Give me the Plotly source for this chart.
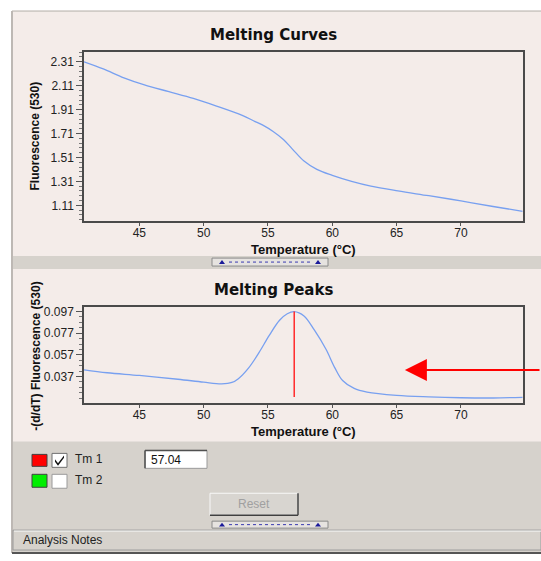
import plotly.graph_objects as go

# ---------------- data ----------------
curve_temp = [40.7, 42.2, 43.8, 45.4, 47.3, 49.2, 51.0, 53.0, 54.0, 54.6, 55.4, 56.2,
              56.9, 57.8, 58.8, 60.0, 61.5, 63.0, 65.1, 67.5, 70.0, 72.5, 74.8]
curve_fluor = [2.31, 2.25, 2.175, 2.116, 2.06, 2.004, 1.94, 1.862, 1.81, 1.78, 1.727, 1.66,
               1.58, 1.48, 1.41, 1.36, 1.31, 1.27, 1.23, 1.19, 1.147, 1.10, 1.06]

peak_temp = [40.7, 42.5, 45.0, 48.0, 50.0, 51.4, 52.2, 52.7, 53.5, 54.3, 55.1, 55.9,
             56.5, 57.04, 57.8, 58.6, 59.5, 60.2, 60.8, 61.7, 62.7, 65.0, 67.5, 70.0, 72.5, 74.8]
peak_deriv = [0.0432, 0.0405, 0.038, 0.0345, 0.0318, 0.0303, 0.0315, 0.035, 0.045, 0.059,
              0.075, 0.089, 0.095, 0.097, 0.093, 0.080, 0.0624, 0.045, 0.0333, 0.026,
              0.0226, 0.0196, 0.0182, 0.0174, 0.0172, 0.0178]

tm1 = 57.04
tm_line_y = [0.097, 0.018]

x_ticks = [45, 50, 55, 60, 65, 70]
y1_ticks = [1.11, 1.31, 1.51, 1.71, 1.91, 2.11, 2.31]
y2_ticks = [0.037, 0.057, 0.077, 0.097]

arrow_target = (65.64, 0.0431)

# ---------------- layout helpers ----------------
W, H = 541, 561
def px(x):
    return x / W
def py(y):
    return 1 - y / H

PINK = "#f4ece9"
GRAY = "#d6d2cc"
BLUE = "#78a0f0"
FONT = "Liberation Sans, Arial, sans-serif"

fig = go.Figure()
fig.add_trace(go.Scatter(x=curve_temp, y=curve_fluor, mode="lines",
                         line=dict(color=BLUE, width=1.3, shape="spline"),
                         xaxis="x", yaxis="y", showlegend=False, hoverinfo="skip"))
fig.add_trace(go.Scatter(x=peak_temp, y=peak_deriv, mode="lines",
                         line=dict(color=BLUE, width=1.3, shape="spline"),
                         xaxis="x2", yaxis="y2", showlegend=False, hoverinfo="skip"))
fig.add_trace(go.Scatter(x=[tm1, tm1], y=tm_line_y, mode="lines",
                         line=dict(color="#ff2a2a", width=1.5),
                         xaxis="x2", yaxis="y2", showlegend=False, hoverinfo="skip"))

xd = [px(84), px(522.7)]
axis_common = dict(showline=True, mirror=True, linecolor="#4a4a4a", linewidth=1.5,
                   showgrid=False, zeroline=False, ticks="outside",
                   tickcolor="#555", tickfont=dict(family=FONT, size=12, color="#222"))

fig.update_layout(
    width=W, height=H,
    margin=dict(l=0, r=0, t=0, b=0),
    paper_bgcolor="white", plot_bgcolor="white",
    xaxis=dict(domain=xd, range=[40.7, 74.8], tickvals=x_ticks, ticklen=3,
               ticklabelstandoff=-3, anchor="y", **axis_common),
    yaxis=dict(domain=[py(220), py(50)], range=[0.977, 2.393], tickvals=y1_ticks,
               tickformat=".2f", ticklen=6, anchor="x",
               minor=dict(ticks="outside", ticklen=3, tick0=1.11, dtick=0.04, tickcolor="#777"),
               **axis_common),
    xaxis2=dict(domain=xd, range=[40.7, 74.8], tickvals=x_ticks, ticklen=3,
                ticklabelstandoff=-3, anchor="y2", **axis_common),
    yaxis2=dict(domain=[py(402.5), py(306)], range=[0.0125, 0.1013], tickvals=y2_ticks,
                tickformat=".3f", ticklen=6, anchor="x2",
                minor=dict(ticks="outside", ticklen=3, tick0=0.037, dtick=0.005, tickcolor="#777"),
                **axis_common),
)

shapes = []
def rect(x0, y0, x1, y1, fill, line=None, lw=1):
    shapes.append(dict(type="rect", xref="paper", yref="paper", layer="below",
                       x0=px(x0), x1=px(x1), y0=py(y1), y1=py(y0),
                       fillcolor=fill, line=dict(color=line or fill, width=lw if line else 0)))
def line(x0, y0, x1, y1, color, lw=1, dash=None, layer="above"):
    d = dict(type="line", xref="paper", yref="paper", layer=layer,
             x0=px(x0), x1=px(x1), y0=py(y0), y1=py(y1), line=dict(color=color, width=lw))
    if dash:
        d["line"]["dash"] = dash
    shapes.append(d)
def path(pts, fill, color=None, lw=0, closed=True):
    s = "M " + " L ".join(f"{px(a):.5f},{py(b):.5f}" for a, b in pts)
    if closed:
        s += " Z"
    shapes.append(dict(type="path", xref="paper", yref="paper", path=s,
                       fillcolor=fill, line=dict(color=color or fill, width=lw)))

# panels
rect(12, 9, 541, 553, GRAY)
rect(13, 10, 541, 255, PINK)
rect(13, 268, 541, 441, PINK)
line(12, 9, 541, 9, "#cfcac6", 1.5, layer="below")
line(12, 9, 12, 553, "#bdb8b4", 2, layer="below")
line(12, 553, 541, 553, "#555555", 2, layer="below")

# splitter widgets
def splitter(x0, y0, x1, y1):
    rect(x0, y0, x1, y1, "#e6e3e0", "#8a8a8a", 1)
    line(x0 + 17, (y0 + y1) / 2, x1 - 17, (y0 + y1) / 2, "#3a3ab0", 1, dash="dot")
    for cx in (x0 + 10, x1 - 10):
        cy = (y0 + y1) / 2
        path([(cx - 3, cy + 2), (cx + 3, cy + 2), (cx, cy - 2)], "#1a1a9a")
splitter(212, 257, 328, 265)
splitter(212, 521, 328, 528)

# Tm controls
rect(32, 454, 47, 466, "#ff0000", "#404040", 1)
rect(52, 453, 67, 467, "white", "#707070", 1)
path([(55, 459), (58, 463), (64, 455), (64, 457.5), (58, 465.5), (55, 461.5)], "#111", closed=True)
rect(32, 474, 47, 487, "#00ee00", "#404040", 1)
rect(52, 474, 67, 488, "white", "#9a9a9a", 1)
rect(145, 450, 207, 468, "white", "#9a9a9a", 1)
line(145, 450, 207, 450, "#505050", 1.5)
line(145, 450, 145, 468, "#505050", 1.5)
# reset button
rect(210, 493, 298, 515, "#d8d5d0", "#f8f8f8", 1)
line(210, 515, 298, 515, "#404040", 1.5)
line(298, 493, 298, 515, "#404040", 1.5)
# analysis notes box
rect(13, 530, 541, 550, "#d6d2cc", "#9a9a9a", 1)
line(14, 531, 541, 531, "#f5f5f5", 1)

fig.update_layout(shapes=shapes)

ann = []
def text(x, y, s, size=12, bold=False, color="#222", xanchor="center", angle=0, family=FONT):
    ann.append(dict(xref="paper", yref="paper", x=px(x), y=py(y), text=f"<b>{s}</b>" if bold else s,
                    showarrow=False, xanchor=xanchor, yanchor="middle", textangle=angle,
                    font=dict(family=family, size=size, color=color)))

text(273, 33, "Melting Curves", size=15, bold=True, color="#111", family="DejaVu Sans, Verdana, sans-serif")
text(273, 289, "Melting Peaks", size=15, bold=True, color="#111", family="DejaVu Sans, Verdana, sans-serif")
text(303, 248, "Temperature (°C)", size=13, bold=True, color="#111")
text(303, 431, "Temperature (°C)", size=13, bold=True, color="#111")
text(35, 135, "Fluorescence (530)", size=12, bold=True, color="#111", angle=-90)
text(36, 356, "-(d/dT) Fluorescence (530)", size=12, bold=True, color="#111", angle=-90)
text(73, 459, "Tm 1", size=12, xanchor="left")
text(73, 480, "Tm 2", size=12, xanchor="left")
text(149, 459.5, "57.04", size=12, xanchor="left", color="#111")
text(254, 504, "Reset", size=12, color="#a0a0a0")
text(21, 540, "Analysis Notes", size=12, xanchor="left", color="#222")

# red arrow pointing at the curve
ann.append(dict(xref="x2", yref="y2", x=arrow_target[0], y=arrow_target[1],
                ax=140, ay=0, axref="pixel", ayref="pixel", text="", showarrow=True,
                arrowhead=2, arrowsize=2.2, arrowwidth=2, arrowcolor="#ff0000"))

fig.update_layout(annotations=ann)

fig.write_html("out.html", config={"displayModeBar": False},
               post_script="document.body.style.margin='0';")
